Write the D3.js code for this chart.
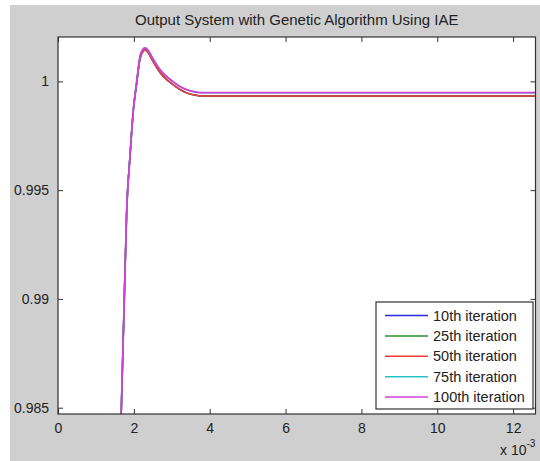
<!DOCTYPE html>
<html>
<head>
<meta charset="utf-8">
<script src="https://cdn.jsdelivr.net/npm/d3@7"></script>
<style>
  html, body { margin: 0; padding: 0; background: #ffffff; }
  svg { display: block; font-family: "Liberation Sans", Arial, sans-serif; }
</style>
</head>
<body>
<svg id="chart" width="540" height="461"></svg>
<script>
// Sample times (units of 1e-3 s)
const timeMs = [1.60, 1.669, 1.740, 1.812, 1.90, 1.986, 2.075, 2.162, 2.23, 2.294, 2.37, 2.50, 2.69, 3.00, 3.20, 3.39, 3.60, 3.79, 12.6];

// System output for each GA iteration count
const iter10  = [0.98042, 0.98489, 0.98949, 0.99410, 0.99660, 0.99866, 0.99992, 1.00104, 1.00135, 1.00144, 1.00134, 1.00094, 1.00041, 0.99989, 0.99964, 0.99947, 0.99937, 0.99933, 0.99933];
const iter25  = [0.98042, 0.98489, 0.98949, 0.99410, 0.99660, 0.99866, 0.99992, 1.00104, 1.00135, 1.00144, 1.00134, 1.00094, 1.00041, 0.99989, 0.99964, 0.99947, 0.99937, 0.99933, 0.99933];
const iter50  = [0.98042, 0.98489, 0.98949, 0.99410, 0.99660, 0.99866, 0.99992, 1.00104, 1.00135, 1.00144, 1.00134, 1.00094, 1.00041, 0.99989, 0.99964, 0.99947, 0.99937, 0.99933, 0.99933];
const iter75  = [0.98042, 0.98489, 0.98949, 0.99410, 0.99660, 0.99870, 1.00000, 1.00115, 1.00145, 1.00154, 1.00144, 1.00105, 1.00054, 1.00003, 0.99978, 0.99962, 0.99952, 0.99948, 0.99948];
const iter100 = [0.98042, 0.98489, 0.98949, 0.99410, 0.99660, 0.99870, 1.00000, 1.00115, 1.00145, 1.00154, 1.00144, 1.00105, 1.00054, 1.00003, 0.99978, 0.99962, 0.99952, 0.99948, 0.99948];

const seriesNames  = ["10th iteration", "25th iteration", "50th iteration", "75th iteration", "100th iteration"];
const seriesColors = ["#2a2ae0", "#2a902a", "#f03a3a", "#28c4c4", "#d040d8"];

const xTicks = [0, 2, 4, 6, 8, 10, 12];
const yTicks = [0.985, 0.99, 0.995, 1];
const yTickLabels = ["0.985", "0.99", "0.995", "1"];

const titleText = "Output System with Genetic Algorithm Using IAE";

// Layout
const W = 540, H = 461;
const plot = { left: 58, top: 37, right: 535.5, bottom: 414 };

const svg = d3.select("#chart");

// Figure background
svg.append("rect").attr("x", 0).attr("y", 0).attr("width", W).attr("height", H).attr("fill", "#ffffff");
svg.append("rect").attr("x", 10).attr("y", 5).attr("width", W - 10).attr("height", H - 5).attr("fill", "#cfcfcf");

const x = d3.scaleLinear().domain([0, 12.59]).range([plot.left, plot.right]);
const y = d3.scaleLinear().domain([0.98471, 1.00204]).range([plot.bottom, plot.top]);

// Axes background
svg.append("rect")
  .attr("x", plot.left).attr("y", plot.top)
  .attr("width", plot.right - plot.left).attr("height", plot.bottom - plot.top)
  .attr("fill", "#ffffff");

svg.append("defs").append("clipPath").attr("id", "plotClip")
  .append("rect")
  .attr("x", plot.left).attr("y", plot.top)
  .attr("width", plot.right - plot.left).attr("height", plot.bottom - plot.top);

// Curves
const allSeries = [iter10, iter25, iter50, iter75, iter100];
const line = d3.line()
  .x((d, i) => x(timeMs[i]))
  .y(d => y(d))
  .curve(d3.curveMonotoneX);

const curves = svg.append("g").attr("clip-path", "url(#plotClip)");
allSeries.forEach((vals, k) => {
  curves.append("path")
    .datum(vals)
    .attr("d", line)
    .attr("fill", "none")
    .attr("stroke", seriesColors[k])
    .attr("stroke-width", k === 4 ? 1.8 : 1.5);
});

// Axes with inward ticks, mirrored on top and right
const axisColor = "#333333";
const tickLen = 5;
const fontSize = 14;

const xAxisBottom = d3.axisBottom(x).tickValues(xTicks).tickSizeInner(-tickLen).tickSizeOuter(0).tickPadding(9).tickFormat(d3.format("d"));
const xAxisTop = d3.axisTop(x).tickValues(xTicks).tickSizeInner(-tickLen).tickSizeOuter(0).tickFormat("");
const yAxisLeft = d3.axisLeft(y).tickValues(yTicks).tickSizeInner(-tickLen).tickSizeOuter(0).tickPadding(9)
  .tickFormat((d, i) => yTickLabels[i]);
const yAxisRight = d3.axisRight(y).tickValues(yTicks).tickSizeInner(-tickLen).tickSizeOuter(0).tickFormat("");

function styleAxis(g) {
  g.select(".domain").remove();
  g.selectAll(".tick line").attr("stroke", axisColor).attr("stroke-width", 1);
  g.selectAll(".tick text").attr("fill", "#222222").attr("font-size", fontSize)
    .attr("font-family", "'Liberation Sans', Arial, sans-serif");
}

svg.append("g").attr("transform", `translate(0,${plot.bottom})`).call(xAxisBottom).call(styleAxis);
svg.append("g").attr("transform", `translate(0,${plot.top})`).call(xAxisTop).call(styleAxis);
svg.append("g").attr("transform", `translate(${plot.left},0)`).call(yAxisLeft).call(styleAxis);
svg.append("g").attr("transform", `translate(${plot.right},0)`).call(yAxisRight).call(styleAxis);

// Axes box
svg.append("rect")
  .attr("x", plot.left).attr("y", plot.top)
  .attr("width", plot.right - plot.left).attr("height", plot.bottom - plot.top)
  .attr("fill", "none").attr("stroke", axisColor).attr("stroke-width", 1.2);

// Title
svg.append("text")
  .attr("x", (plot.left + plot.right) / 2).attr("y", 25)
  .attr("text-anchor", "middle")
  .attr("font-size", 15).attr("fill", "#222222")
  .text(titleText);

// Exponent label
const expo = svg.append("text").attr("x", 500).attr("y", 455).attr("font-size", 14).attr("fill", "#222222");
expo.append("tspan").text("x 10");
expo.append("tspan").attr("dy", -8).attr("font-size", 10).text("-3");

// Legend
const legend = { left: 376, top: 302, right: 533, bottom: 409, row0: 315.5, rowGap: 20.4 };
svg.append("rect")
  .attr("x", legend.left).attr("y", legend.top)
  .attr("width", legend.right - legend.left).attr("height", legend.bottom - legend.top)
  .attr("fill", "#ffffff").attr("stroke", axisColor).attr("stroke-width", 1.2);

seriesNames.forEach((name, k) => {
  const ly = legend.row0 + k * legend.rowGap;
  svg.append("line")
    .attr("x1", 385).attr("x2", 428).attr("y1", ly).attr("y2", ly)
    .attr("stroke", seriesColors[k]).attr("stroke-width", 1.5);
  svg.append("text")
    .attr("x", 433).attr("y", ly + 5)
    .attr("font-size", 14.5).attr("fill", "#222222")
    .text(name);
});
</script>
</body>
</html>
